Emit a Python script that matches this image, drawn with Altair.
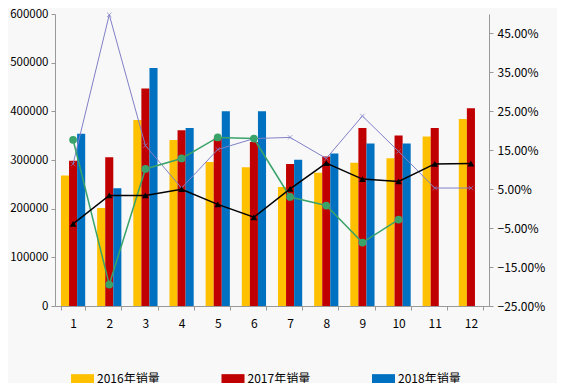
import altair as alt
import pandas as pd

months = list(range(1, 13))
years = ["2016年销量", "2017年销量", "2018年销量"]
sales_2016 = [268000, 201500, 382000, 341000, 296000, 285000, 244500, 274000, 294500, 303500, 348500, 384000]
sales_2017 = [298500, 305500, 447000, 361000, 345000, 337000, 292000, 307000, 365500, 350500, 365500, 406500]
sales_2018 = [354000, 242000, 489000, 365500, 400000, 400000, 300500, 313500, 334000, 334000]
growth_purple = [11.5, 49.8, 16.2, 5.3, 15.2, 18.0, 18.3, 12.9, 23.8, 14.7, 5.3, 5.3]
growth_green = [17.7, -19.5, 10.2, 12.9, 18.3, 18.0, 3.0, 0.8, -8.7, -2.8]
growth_black = [-3.9, 3.4, 3.4, 5.0, 1.1, -2.2, 5.1, 11.7, 7.6, 7.0, 11.5, 11.6]
pct_ticks = [-25, -15, -5, 5, 15, 25, 35, 45]

rows = []
for name, vals in zip(years, [sales_2016, sales_2017, sales_2018]):
    for m, v in zip(months, vals):
        rows.append({"month": m, "year": name, "sales": v})
bars_df = pd.DataFrame(rows)

purple_df = pd.DataFrame({"month": months, "g": growth_purple})
green_df = pd.DataFrame({"month": months[:len(growth_green)], "g": growth_green})
black_df = pd.DataFrame({"month": months, "g": growth_black})

FONT = "Noto Sans CJK SC"

xenc = alt.X(
    "month:O",
    scale=alt.Scale(paddingInner=0.33, paddingOuter=0.165),
    axis=alt.Axis(title=None, labelAngle=0, tickBand="extent", domainColor="#999999",
                  tickColor="#999999", tickSize=4, labelPadding=8, labelFontSize=12,
                  labelColor="#000000", labelFont=FONT),
)

bars = alt.Chart(bars_df).mark_bar().encode(
    x=xenc,
    xOffset=alt.XOffset("year:N", scale=alt.Scale(paddingInner=0, paddingOuter=0)),
    y=alt.Y("sales:Q", scale=alt.Scale(domain=[0, 600000], nice=False),
            axis=alt.Axis(title=None, values=[0, 100000, 200000, 300000, 400000, 500000, 600000],
                          format="d", grid=False, domainColor="#999999", tickColor="#999999",
                          tickSize=4, labelPadding=3, labelFontSize=11.5, labelColor="#000000",
                          labelFont=FONT)),
    color=alt.Color("year:N",
                    scale=alt.Scale(domain=years, range=["#FFC000", "#C00000", "#0070C0"]),
                    legend=alt.Legend(title=None, orient="none", direction="horizontal",
                                      legendX=18, legendY=355, columnPadding=60.5,
                                      symbolType="M-1.25,-0.5H1.25V0.5H-1.25Z", symbolSize=339,
                                      symbolStrokeWidth=0, labelFontSize=12, labelColor="#000000",
                                      labelFont=FONT, labelOffset=5)),
)

yscale = alt.Scale(domain=[-25, 50], nice=False)
right_axis = alt.Axis(title=None, orient="right", values=pct_ticks, grid=False,
                      labelExpr="format(datum.value, '.2f') + '%'", domainColor="#999999",
                      tickColor="#999999", tickSize=4, labelPadding=4, labelFontSize=12,
                      labelColor="#000000", labelFont=FONT)


def ly(first=False):
    return alt.Y("g:Q", scale=yscale, axis=right_axis if first else None)


purple_line = alt.Chart(purple_df).mark_line(color="#8080C8", strokeWidth=1).encode(x=xenc, y=ly(True))
purple_pts = alt.Chart(purple_df).mark_point(shape="M-1,-1L1,1M-1,1L1,-1", color="#8080C8",
                                             filled=False, size=20, strokeWidth=1).encode(x=xenc, y=ly())
green_line = alt.Chart(green_df).mark_line(color="#3AA36A", strokeWidth=1.5).encode(x=xenc, y=ly())
green_pts = alt.Chart(green_df).mark_point(shape="circle", color="#3AA36A", filled=True,
                                           size=60, opacity=1).encode(x=xenc, y=ly())
black_line = alt.Chart(black_df).mark_line(color="#000000", strokeWidth=1.5).encode(x=xenc, y=ly())
black_pts = alt.Chart(black_df).mark_point(shape="triangle-up", color="#000000", filled=True,
                                           size=45, opacity=1).encode(x=xenc, y=ly())

chart = alt.layer(
    bars, purple_line, purple_pts, green_line, green_pts, black_line, black_pts
).resolve_scale(y="independent").properties(
    width=434, height=292,
    autosize=alt.AutoSizeParams(type="none"),
    padding={"left": 47, "top": 6, "right": 68, "bottom": 77},
    background="#f8f8f8",
).configure_view(stroke=None)

chart.save("out.html", embed_options={"renderer": "svg", "actions": False})
